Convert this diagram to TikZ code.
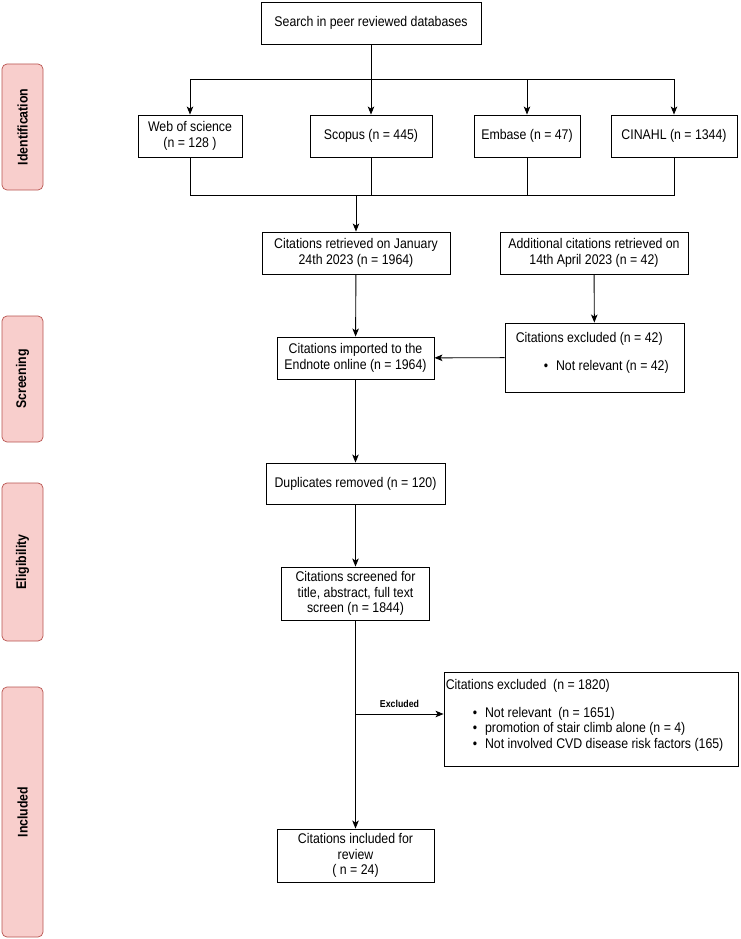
\documentclass[tikz,border=0pt]{standalone}
\usepackage{fontspec}
\setmainfont{Liberation Sans}[FakeStretch=0.88]
\usetikzlibrary{arrows.meta}
\definecolor{bandfill}{HTML}{F8CECC}
\definecolor{bandline}{HTML}{B85450}

\begin{document}
\begin{tikzpicture}[x=1pt, y=-1pt,
	box/.style={draw, line width=0.9pt, align=center, inner sep=2pt, font=\fontsize{14}{15.5}\selectfont},
	boxtext/.style={anchor=north west, align=left, inner sep=2pt, font=\fontsize{14}{15.5}\selectfont},
	band/.style={draw=bandline, fill=bandfill, rounded corners=5pt, line width=0.7pt, minimum height=41pt, rotate=90, font=\bfseries\fontsize{14}{16}\selectfont},
	arr/.style={-{Stealth[length=8pt, width=6.5pt, inset=2pt]}, line width=0.9pt},
	ln/.style={line width=0.9pt}]
				\useasboundingbox (0,0) rectangle (740,939);
				
				%stage bands
				\node (ident) at (22.5,127) [band, minimum width=126pt]{Identification};
				\node (screen) at (22.5,379) [band, minimum width=126pt]{Screening};
				\node (elig) at (22.5,562) [band, minimum width=158pt]{Eligibility};
				\node (incl) at (22.5,812) [band, minimum width=250pt]{Included};
				
				%databases
				\node (search) at (371,23) [box, minimum width=220pt, minimum height=42pt]{Search in peer reviewed databases};
				\node (wos) at (190,136) [box, minimum width=104pt, minimum height=42pt]{Web of science\\(n = 128 )};
				\node (scopus) at (371,136) [box, minimum width=122pt, minimum height=42pt]{Scopus (n = 445)};
				\node (embase) at (527,136) [box, minimum width=106pt, minimum height=42pt]{Embase (n = 47)};
				\node (cinahl) at (674,136) [box, minimum width=126pt, minimum height=42pt]{CINAHL (n = 1344)};
				
				\coordinate (split) at (371,79);
				\coordinate (join) at (356,195);
				\draw[ln] (search) -- (split);
				\foreach \db in {wos, scopus, embase, cinahl}{
					\draw[arr] (split) -| (\db.north);
					\draw[ln] (\db.south) |- (join);
				}
				
				%citations
				\node (retrieved) at (356,253) [box, minimum width=188pt, minimum height=42pt]{Citations retrieved on January\\24th 2023 (n = 1964)};
				\node (additional) at (594,253) [box, minimum width=188pt, minimum height=42pt]{Additional citations retrieved on\\14th April 2023 (n = 42)};
				\node (excl) at (594.5,357.5) [box, minimum width=179pt, minimum height=69pt]{};
				\node (excltext) at (excl.north west) [boxtext, xshift=9pt, yshift=-8pt]{Citations excluded (n = 42)\\[12pt]\hspace{28pt}\textbullet\hspace{8pt}Not relevant (n = 42)};
				\node (imported) at (355.5,358) [box, minimum width=157pt, minimum height=42pt]{Citations imported to the\\Endnote online (n = 1964)};
				\node (dupl) at (355.5,483.5) [box, minimum width=179pt, minimum height=41pt]{Duplicates removed (n = 120)};
				\node (screened) at (355.5,593.5) [box, minimum width=148pt, minimum height=53pt]{Citations screened for\\title, abstract, full text\\screen (n = 1844)};
				\node (excl2) at (591,719) [box, minimum width=294pt, minimum height=94pt]{};
				\node (excl2text) at (excl2.north west) [boxtext, xshift=0pt, yshift=-6pt]{Citations excluded\ \ (n = 1820)\\[12pt]
					\hspace{27pt}\textbullet\hspace{8pt}Not relevant\ \ (n = 1651)\\
					\hspace{27pt}\textbullet\hspace{8pt}promotion of stair climb alone (n = 4)\\
					\hspace{27pt}\textbullet\hspace{8pt}Not involved CVD disease risk factors (165)};
				\node (included) at (355.5,855.5) [box, minimum width=157pt, minimum height=53pt]{Citations included for\\review\\( n = 24)};
				
				\draw[arr] (join) -- (retrieved);
				\draw[arr] (additional) -- (excl);
				\draw[arr] (excl) -- (imported);
				\draw[arr] (retrieved) -- (imported);
				\draw[arr] (imported) -- (dupl);
				\draw[arr] (dupl) -- (screened);
				\draw[arr] (screened) -- (included);
				
				%excluded branch
				\coordinate (branch) at (355.5,714);
				\draw[arr] (branch) -- (branch -| excl2.west) node (exlabel) [midway, above=3pt, font=\bfseries\fontsize{10}{12}\selectfont]{Excluded};
			\end{tikzpicture}
\end{document}
